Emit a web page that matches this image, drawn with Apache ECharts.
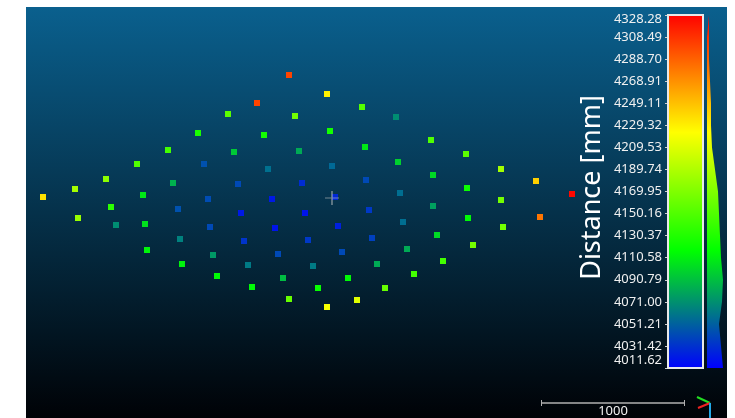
<!DOCTYPE html>
<html><head><meta charset="utf-8">
<script src="https://cdn.jsdelivr.net/npm/echarts@6/dist/echarts.min.js"></script>
<style>html,body{margin:0;padding:0;background:#fff}#c{width:735px;height:418px}</style>
</head><body><div id="c"></div>
<script>
// screen-space positions of the cloud points (view units) and their distances [mm]
const pointX = [43,75,106,137,168,198,228,257,289,327,362,396,431,466,501,536,572,
  78,111,143,173,204,234,264,295,330,365,398,433,467,501,540,
  116,145,178,208,238,268,299,332,366,400,433,468,503,
  147,180,210,241,272,302,335,369,403,437,473,
  182,213,244,275,305,338,372,407,443,
  217,248,278,308,342,377,414,
  252,283,313,348,385,
  289,318,357,327];
const pointY = [197,189,179,164,150,133,114,103,75,94,107,117,140,154,169,181,194,
  218,207,195,183,164,152,135,116,131,147,162,175,188,200,217,
  225,224,209,199,184,169,151,166,180,193,206,218,227,
  250,239,227,213,199,183,197,210,222,235,245,
  264,255,241,228,213,226,238,249,261,
  276,265,254,240,252,264,274,
  287,278,266,278,288,
  299,288,300,307];
const distance = [4235,4185,4175,4150,4145,4128,4155,4300,4300,4228,4152,4070,4150,4155,4185,4242,4325,
  4180,4135,4108,4085,4045,4095,4125,4165,4125,4108,4098,4102,4122,4165,4280,
  4070,4105,4045,4043,4042,4058,4082,4055,4042,4057,4078,4115,4165,
  4113,4065,4042,4022,4022,4030,4028,4035,4057,4102,4165,
  4112,4075,4033,4020,4020,4025,4038,4082,4145,
  4115,4062,4042,4035,4042,4082,4145,
  4115,4090,4062,4115,4160,
  4160,4120,4210,4220];
// colour-scale tick labels, bottom to top
const tickLabels = ['4011.62','4031.42','4051.21','4071.00','4090.79','4110.58','4130.37','4150.16',
  '4169.95','4189.74','4209.53','4229.32','4249.11','4268.91','4288.70','4308.49','4328.28'];
// histogram widths beside the colour scale, bottom to top (same steps as ticks)
const histCounts = [16,14,12,15,16,14,13,12,11,8,5,4,4,3,2,2,2];
const crossX = [332], crossY = [198];
const scaleBarText = '1000';
const scaleTitle = 'Distance [mm]';
const dMin = 4011.62, dMax = 4328.28;

const scaleColors = ['#0000ff','#00ff00','#ffff00','#ff0000'];
const chart = echarts.init(document.getElementById('c'));
const G = echarts.graphic.LinearGradient;
const pts = pointX.map((x,i)=>[x, pointY[i], distance[i]]);
const font = 'Noto Sans';

chart.setOption({
  animation: false,
  backgroundColor: '#ffffff',
  grid: [
    {left:26, top:7, right:8, bottom:0, show:true, borderWidth:0,
     backgroundColor: new G(0,0,0,1,[{offset:0,color:'#0a608e'},{offset:1,color:'#000206'}])},
    {left:668, top:15, width:35, height:353, show:true, borderColor:'#e8e8e8', borderWidth:2, z:5,
     backgroundColor: new G(0,0,0,1,[{offset:0,color:'#ff0000'},{offset:1/3,color:'#ffff00'},{offset:2/3,color:'#00ff00'},{offset:1,color:'#0000ff'}])},
    {left:707, top:15, width:20, height:353, show:false}
  ],
  xAxis: [
    {gridIndex:0, type:'value', min:26, max:727, show:false},
    {gridIndex:1, type:'value', min:0, max:1, show:false},
    {gridIndex:2, type:'value', min:0, max:20, show:false}
  ],
  yAxis: [
    {gridIndex:0, type:'value', min:7, max:418, inverse:true, show:false},
    {gridIndex:1, type:'value', min:0, max:16, interval:1, position:'left',
     name: scaleTitle, nameLocation:'middle', nameRotate:90, nameGap:62,
     nameTextStyle:{color:'#ffffff', fontSize:27, fontFamily:font, padding:[0,0,0,8]},
     axisLine:{show:false}, splitLine:{show:false},
     axisTick:{show:true, length:3, lineStyle:{color:'#cccccc', width:1}},
     axisLabel:{margin:6, color:'#f0f0f0', fontSize:13, fontFamily:font,
       formatter:(v)=> v===16 ? '{t|'+tickLabels[v]+'}' : (v===0 ? '{b|'+tickLabels[v]+'}' : tickLabels[v]),
       rich:{t:{padding:[8,0,0,0], color:'#f0f0f0', fontSize:13, fontFamily:font},
             b:{padding:[0,0,16,0], color:'#f0f0f0', fontSize:13, fontFamily:font}}}},
    {gridIndex:2, type:'category', data:tickLabels, boundaryGap:false, show:false}
  ],
  visualMap: {show:false, type:'continuous', min:dMin, max:dMax, dimension:2, seriesIndex:0,
    inRange:{color:scaleColors}},
  series: [
    {type:'scatter', xAxisIndex:0, yAxisIndex:0, data:pts, symbol:'rect', symbolSize:6,
     itemStyle:{borderWidth:0, opacity:1}, silent:true},
    {type:'scatter', xAxisIndex:0, yAxisIndex:0, data: crossX.map((x,i)=>[x,crossY[i]]),
     symbol:'path://M0,6.4h14v1.2h-14z M6.2,0h1.6v14h-1.6z', symbolSize:14,
     itemStyle:{color:'rgba(200,200,200,0.7)'}, silent:true},
    {type:'line', xAxisIndex:2, yAxisIndex:2, data:histCounts, symbol:'none',
     lineStyle:{width:0}, silent:true,
     areaStyle:{opacity:1, origin:'start', color: new G(0,0,0,1,[{offset:0,color:'#ff0000'},{offset:1/3,color:'#ffff00'},{offset:2/3,color:'#00ff00'},{offset:1,color:'#0000ff'}])}}
  ],
  graphic: [
    {type:'line', shape:{x1:541,y1:403,x2:685,y2:403}, style:{stroke:'#b0b0b0', lineWidth:1.5}},
    {type:'line', shape:{x1:541.5,y1:400,x2:541.5,y2:406}, style:{stroke:'#b0b0b0', lineWidth:1}},
    {type:'line', shape:{x1:684.5,y1:400,x2:684.5,y2:406}, style:{stroke:'#b0b0b0', lineWidth:1}},
    {type:'text', x:613, y:411, style:{text:scaleBarText, fill:'#f0f0f0', font:'13px "Noto Sans"', align:'center', verticalAlign:'middle'}},
    {type:'line', shape:{x1:697,y1:397,x2:710,y2:403}, style:{stroke:'#22dd22', lineWidth:2}},
    {type:'line', shape:{x1:710,y1:403,x2:698,y2:408}, style:{stroke:'#ee2222', lineWidth:2}},
    {type:'line', shape:{x1:710,y1:403,x2:710,y2:418}, style:{stroke:'#22a8e8', lineWidth:2}}
  ]
});
</script></body></html>
